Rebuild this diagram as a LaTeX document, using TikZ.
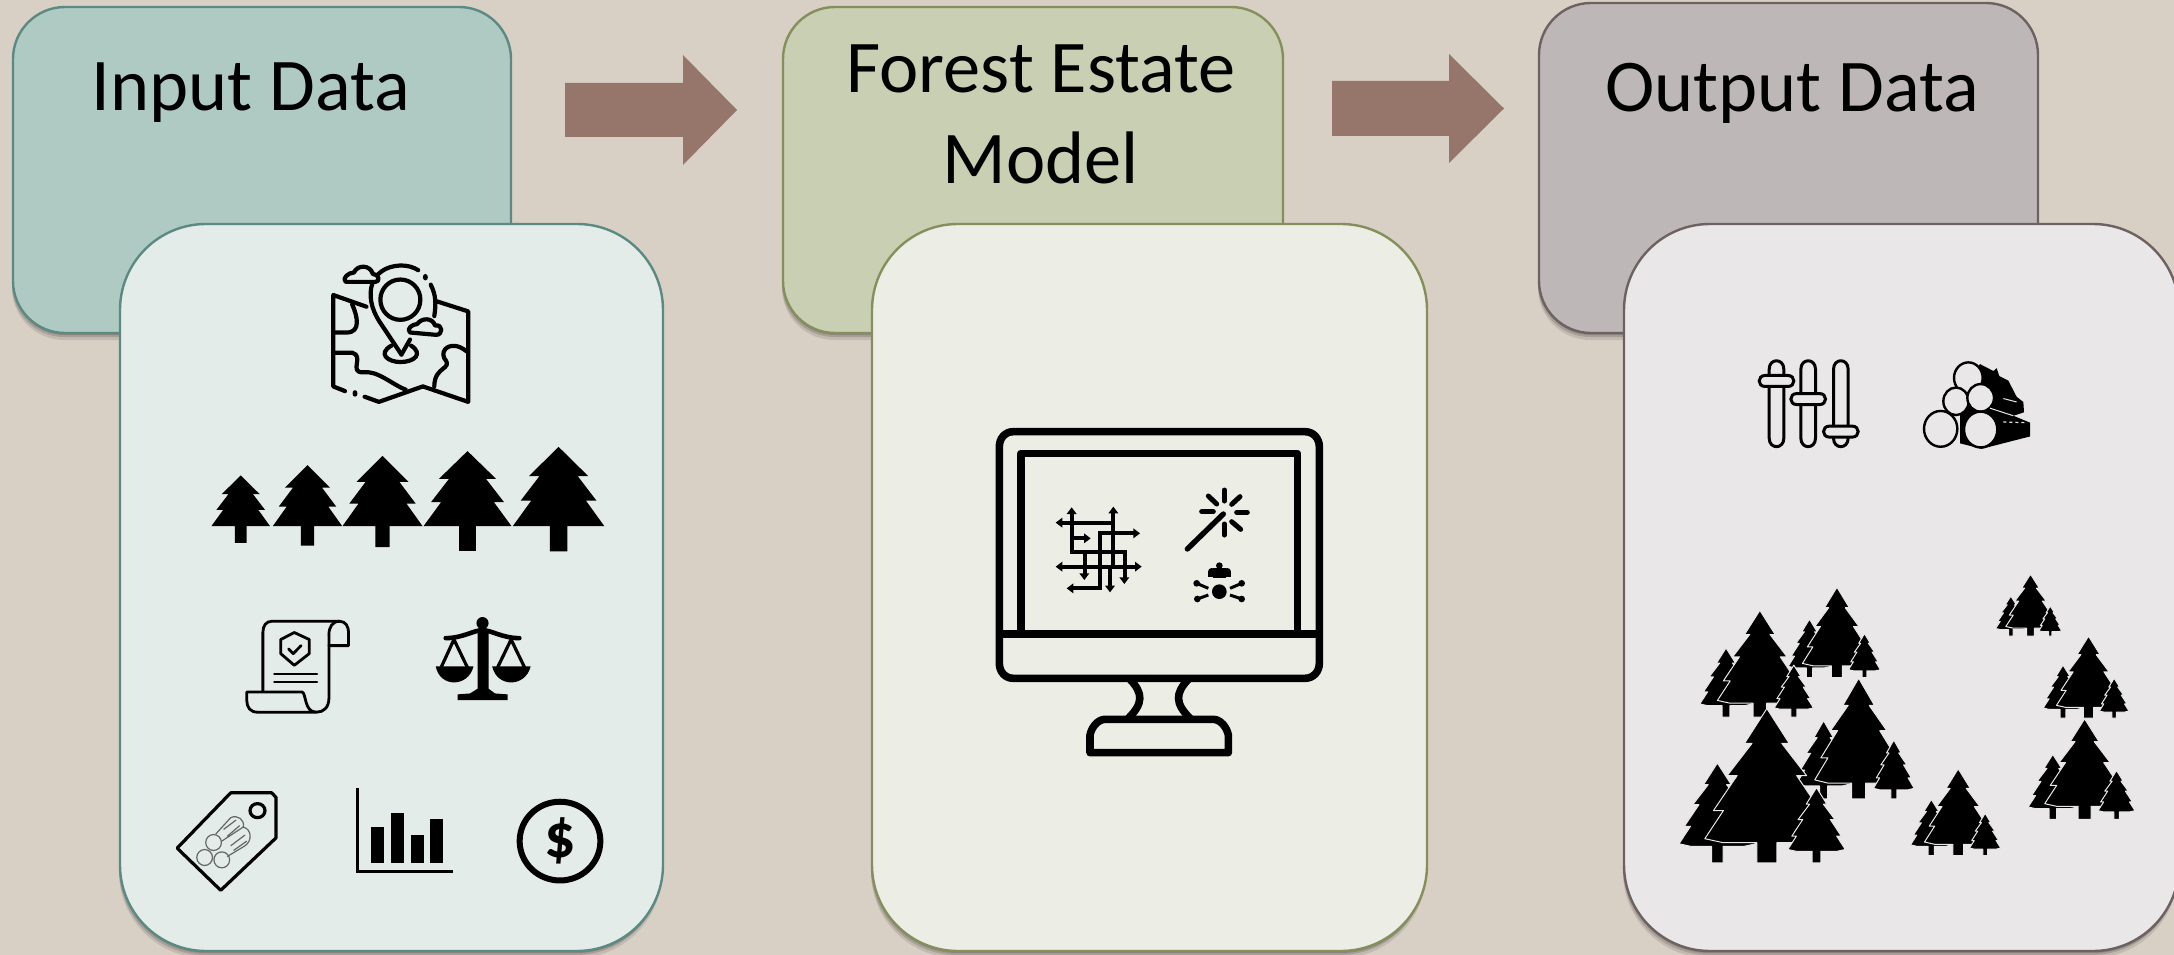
\documentclass[tikz,border=0pt]{standalone}
\usepackage{fontspec}
\setmainfont{Carlito}
\usetikzlibrary{shadows}
\definecolor{bgc}{HTML}{D9D0C5}
\definecolor{inB}{HTML}{AFCAC3}\definecolor{inE}{HTML}{5B8A82}\definecolor{inF}{HTML}{E3ECE9}
\definecolor{foB}{HTML}{C8CFB2}\definecolor{foE}{HTML}{858F5C}\definecolor{foF}{HTML}{ECEEE6}
\definecolor{ouB}{HTML}{BEB7B7}\definecolor{ouE}{HTML}{6E6161}\definecolor{ouF}{HTML}{E9E7E8}
\definecolor{arr}{HTML}{96766A}
\tikzset{
 softshadow/.style={drop shadow={shadow xshift=0pt,shadow yshift=-2pt,fill=black,opacity=.16},
   drop shadow={shadow xshift=-1pt,shadow yshift=-4pt,fill=black,opacity=.14},
   drop shadow={shadow xshift=-1pt,shadow yshift=-7pt,fill=black,opacity=.10}},
 backpanel/.style={draw,line width=2.4pt,rounded corners=52pt,softshadow,inner sep=0pt,minimum width=#1},
 frontpanel/.style={draw,line width=2.4pt,rounded corners=86pt,softshadow,inner sep=0pt,minimum height=727pt,minimum width=#1},
 titletext/.style={anchor=base,font=\fontsize{74.4}{88}\selectfont,text=black,inner sep=0pt},
 blockarrow/.style={fill=arr},
 zA/.style={shift={(120,220)},x=0.35714pt,y=-0.46875pt},
 zB/.style={shift={(960,400)},x=0.33333pt,y=-0.33333pt},
 zC/.style={shift={(1660,340)},x=0.33333pt,y=-0.34439pt},
 ic/.style={line width=#1,line cap=round,line join=round,draw=black},
 ic/.default=4.2pt
}
\newcommand{\pinetree}[6]{\begin{scope}[shift={(#1,#2)},xscale=#3,yscale=#4]
 \fill[black] (0,0)--(.65,.37)--(.42,.37)--(.83,.68)--(.6,.68)--(1,1)--(#5,1)--(#5,#6)--(-#5,#6)--(-#5,1)--(-1,1)--(-.6,.68)--(-.83,.68)--(-.42,.37)--(-.65,.37)--cycle;
 \end{scope}}
\newcommand{\sprucetree}[6]{\begin{scope}[shift={(#1,#2)},xscale=#3,yscale=#4]
 \filldraw[fill=black,draw=ouF,line width=1pt,line join=round] (0,0)--(.36,.26)--(.24,.26)--(.64,.5)--(.48,.5)--(.86,.76)--(.7,.76)--(1,.97)--(.7,1)--(#5,1)--(#5,#6)--(-#5,#6)--(-#5,1)--(-.7,1)--(-1,.97)--(-.7,.76)--(-.86,.76)--(-.48,.5)--(-.64,.5)--(-.24,.26)--(-.36,.26)--cycle;
 \end{scope}}
\newcommand{\treecluster}[4]{\begin{scope}[shift={(#1,#2)},xscale=#3,yscale=#4]
 \sprucetree{.233}{.353}{.235}{.54}{.15}{1.2}
 \sprucetree{.536}{0}{.38}{.87}{.16}{1.15}
 \sprucetree{.84}{.513}{.176}{.413}{.15}{1.18}
 \end{scope}}
\begin{document}
\begin{tikzpicture}[x=1pt,y=-1pt]
\useasboundingbox (0,0) rectangle (2174,955);
\clip (0,0) rectangle (2174,955);
\fill[bgc] (0,0) rectangle (2174,955);
% panels
\node[backpanel=498pt,minimum height=326pt,draw=inE,fill=inB] (inputBack) at (262,170) {};
\node[backpanel=500pt,minimum height=326pt,draw=foE,fill=foB] (forestBack) at (1033,170) {};
\node[backpanel=499pt,minimum height=330pt,draw=ouE,fill=ouB] (outputBack) at (1788.5,168) {};
\node[frontpanel=543pt,draw=inE,fill=inF] (inputFront) at (391.5,587.5) {};
\node[frontpanel=555pt,draw=foE,fill=foF] (forestFront) at (1149.5,587.5) {};
\node[frontpanel=555pt,draw=ouE,fill=ouF] (outputFront) at (1901.5,587.5) {};
% titles
\node[titletext] (inputTitle) at (251,111) {Input Data};
\node[titletext] (forestTitleA) at (1041,93) {Forest Estate};
\node[titletext] (forestTitleB) at (1041,183) {Model};
\node[titletext] (outputTitle) at (1792,112) {Output Data};
% block arrows
\fill[blockarrow] (565,83)--(683,83)--(683,55)--(737,110)--(683,165)--(683,137)--(565,137)--cycle;
\fill[blockarrow] (1332,81)--(1449,81)--(1449,54)--(1504,108.5)--(1449,163)--(1449,136)--(1332,136)--cycle;
% ---------- input icons
\begin{scope}[zA]
 % map
 \draw[ic] (690,185)--(597,160)--(597,355)--(630,365);
 \fill (658,370) ellipse [x radius=7,y radius=7];
 \draw[ic] (685,377)--(725,388)--(848,355)--(975,388)--(975,195)--(885,173);
 \draw[ic] (600,240)--(635,240) .. controls (675,240) and (665,205) .. (650,180);
 \draw[ic] (600,283)--(650,283) .. controls (685,290) and (640,325) .. (680,325) .. controls (720,320) and (760,350) .. (800,362);
 \draw[ic] (970,280) .. controls (930,255) and (895,275) .. (908,295) .. controls (935,320) and (880,310) .. (880,355);
 \draw[ic] (788,287)--(725,215) .. controls (680,160) and (700,100) .. (785,97) .. controls (805,97) and (820,100) .. (835,107);
 \fill (855,122) ellipse [x radius=7,y radius=7];
 \draw[ic] (870,138) .. controls (885,160) and (885,180) .. (880,205);
 \draw[ic] (788,287)--(812,255);
 \draw[ic] (785,170) ellipse [x radius=56,y radius=43];
 \draw[ic] (760,268) .. controls (720,285) and (750,303) .. (785,303) .. controls (825,303) and (850,285) .. (815,268);
 \filldraw[ic,fill=inF] (632,132) .. controls (620,125) and (640,112) .. (655,112) .. controls (665,95) and (700,95) .. (708,115) .. controls (725,115) and (730,132) .. (715,132) -- cycle;
 \filldraw[ic,fill=inF] (812,240) .. controls (800,232) and (820,222) .. (832,222) .. controls (845,208) and (875,208) .. (882,225) .. controls (905,222) and (905,245) .. (885,245) -- cycle;
 % pines
 \pinetree{338}{545}{82}{108}{.2}{1.33}
 \pinetree{525}{523}{97}{130}{.19}{1.32}
 \pinetree{735}{503}{112}{150}{.18}{1.3}
 \pinetree{973}{493}{123}{160}{.19}{1.33}
 \pinetree{1228}{484}{128}{169}{.19}{1.32}
 % scroll
 \draw[ic=2.8pt] (400,1005)--(400,880) .. controls (400,865) and (410,856) .. (425,856)--(615,856) .. controls (632,856) and (640,868) .. (640,880)--(640,908)--(585,908);
 \draw[ic=2.8pt] (585,885) .. controls (585,868) and (595,856) .. (615,856);
 \draw[ic=2.8pt] (585,885)--(585,1020) .. controls (585,1040) and (570,1050) .. (550,1050)--(385,1050) .. controls (365,1050) and (355,1040) .. (355,1025)--(355,1007)--(510,1007) .. controls (522,1010) and (515,1050) .. (550,1050);
 \draw[ic=2.8pt] (488,880)--(530,895)--(530,925)--(488,950)--(450,925)--(450,895)--cycle;
 \draw[ic=2.8pt] (472,915)--(485,925)--(507,908);
 \draw[ic=2.2pt] (432,968)--(552,968);
 \draw[ic=2.2pt] (432,985)--(552,985);
 % scales
 \fill (1015,860) ellipse [x radius=17,y radius=13];
 \fill (1001,872)--(1032,872)--(1032,1000)--(1050,1010)--(1085,1012)--(1085,1024)--(945,1024)--(945,1012)--(980,1010)--(1001,1000)--cycle;
 \draw[ic=4.6pt] (912,892) .. controls (960,892) and (990,875) .. (1015,875) .. controls (1040,875) and (1070,892) .. (1118,892);
 \draw[ic=3.2pt] (935,895)--(897,958)--(975,958)--cycle;
 \draw[ic=3.2pt] (1095,895)--(1055,958)--(1135,958)--cycle;
 \fill (884,952) .. controls (895,998) and (975,998) .. (990,952)--cycle;
 \fill (1042,952) .. controls (1055,998) and (1135,998) .. (1150,952)--cycle;
 % tag
 \draw[ic=3.2pt] (160,1340)--(310,1222)--(425,1222)--(437,1232)--(437,1318)--(282,1430)--cycle;
 \draw[ic=3.2pt] (385,1260) ellipse [x radius=21,y radius=15];
 \begin{scope}[draw=black!60,line width=1.2pt]
  \draw (262,1328) ellipse [x radius=22,y radius=17];
  \draw (237,1360) ellipse [x radius=22,y radius=17];
  \draw (285,1365) ellipse [x radius=22,y radius=17];
  \draw (268,1310)--(310,1275) .. controls (330,1268) and (350,1280) .. (345,1295);
  \draw (285,1325)--(345,1295) .. controls (370,1300) and (370,1325) .. (350,1335)--(300,1358);
  \draw (290,1300)--(325,1280); \draw (300,1315)--(335,1292);
  \draw (310,1335)--(350,1312); \draw (318,1345)--(355,1325);
 \end{scope}
 % bar chart
 \draw[line width=3.2pt,draw=black] (665,1212)--(665,1390)--(931,1390);
 \fill (703,1295) rectangle (740,1372);
 \fill (758,1265) rectangle (795,1372);
 \fill (814,1312) rectangle (850,1372);
 \fill (869,1278) rectangle (905,1372);
 % dollar
 \draw[line width=6pt] (1232,1325) ellipse [x radius=113,y radius=84];
 \node[font=\fontsize{62}{70}\selectfont\bfseries,text=black,inner sep=0pt] (dollarSign) at (1232,1325) {\$};
\end{scope}
% ---------- monitor
\begin{scope}[zB]
 \draw[line width=7.6pt,line join=round] (160,95)--(1035,95) .. controls (1060,95) and (1078,115) .. (1078,140)--(1078,790) .. controls (1078,815) and (1060,835) .. (1035,835)--(160,835) .. controls (135,835) and (118,815) .. (118,790)--(118,140) .. controls (118,115) and (135,95) .. (160,95)--cycle;
 \draw[line width=7.6pt,line join=round] (183,700)--(183,160)--(1012,160)--(1012,700);
 \draw[line width=8pt] (118,702)--(1078,702);
 \draw[line width=7.6pt] (510,838) .. controls (550,880) and (550,910) .. (505,955);
 \draw[line width=7.6pt] (685,838) .. controls (645,880) and (645,910) .. (690,955);
 \draw[line width=7.6pt,line join=round] (390,1058)--(390,1005) .. controls (395,980) and (415,958) .. (435,958)--(760,958) .. controls (780,958) and (800,980) .. (805,1005)--(805,1058)--cycle;
 % maze
 \begin{scope}[line width=4.2pt,line cap=butt,line join=miter]
  \draw (300,368)--(460,368)--(460,335);
  \draw (460,368)--(460,500);
  \draw (335,335)--(335,455)--(495,455)--(495,535);
  \draw (335,415)--(380,415);
  \draw (420,500)--(420,400)--(525,400);
  \draw (420,500)--(420,565)--(335,565);
  \draw (300,500)--(530,500);
  \draw (375,455)--(375,525);
  \draw (450,500)--(450,560);
 \end{scope}
 \foreach \a/\b/\u/\v in {287/368/1/0,540/400/-1/0,545/500/-1/0,287/500/1/0,320/565/1/0,392/415/-1/0,335/322/0/1,460/320/0/1,373/540/0/-1,450/577/0/-1,493/552/0/-1}{
   \fill ({\a},{\b})--({\a+\u*20+\v*15},{\b+\v*20+\u*15})--({\a+\u*20-\v*15},{\b+\v*20-\u*15})--cycle;}
 % wand
 \begin{scope}[line cap=round]
  \draw[line width=5.4pt] (682,447)--(790,342);
  \draw[line width=5pt] (793,270)--(793,303);
  \draw[line width=5pt] (840,290)--(815,313);
  \draw[line width=5pt] (830,337)--(862,337);
  \draw[line width=5pt] (815,365)--(842,388);
  \draw[line width=5pt] (793,372)--(793,405);
  \draw[line width=5pt] (745,288)--(770,312);
  \draw[line width=5pt] (725,335)--(760,335);
 \end{scope}
 % cog-like mark
 \fill (778,575) circle [radius=22];
 \fill (745,515) rectangle (812,532);
 \fill (760,505) rectangle (798,535);
 \fill (778,497) circle [radius=10];
 \fill (755,515) circle [radius=11];
 \fill (802,515) circle [radius=11];
 \foreach \a/\b/\c/\d in {710/550/745/565,845/550/810/565,712/597/745/585,845/597/810/585}{
  \fill (\a,\b) circle [radius=10];
  \draw[line width=3pt] (\a,\b)--(\c,\d);}
\end{scope}
% ---------- output icons
\begin{scope}[zC]
 % sliders
 \foreach \a/\b in {349.5/119,444.5/171.5,542.5/266}{
  \draw[line width=3pt,line join=round] (\a-22,85) .. controls (\a-22,52) and (\a+22,52) .. (\a+22,85)--(\a+22,285) .. controls (\a+22,318) and (\a-22,318) .. (\a-22,285)--cycle;
  \filldraw[line width=3pt,fill=ouF] (\a-34,\b-16) -- (\a+34,\b-16) .. controls (\a+58,\b-16) and (\a+58,\b+16) .. (\a+34,\b+16) -- (\a-34,\b+16) .. controls (\a-58,\b+16) and (\a-58,\b-16) .. (\a-34,\b-16)--cycle;}
 % logs
 \fill (960,70)--(1000,90)--(1010,82)--(1018,105)--(1045,118)--(1070,165)--(1090,180)--(1092,210)--(1060,220)--(1110,240)--(1110,280)--(965,316)--(900,300)--(900,150)--cycle;
 \foreach \a/\b/\r/\s in {925/110/43/45,888/178/38/40,962/168/40/40,842/258/50/52,962/260/50/52}{
  \filldraw[line width=2.4pt,fill=ouF] (\a,\b) ellipse [x radius=\r,y radius=\s];}
 \draw[ouF,line width=1pt] (1030,170)--(1070,180);
 \draw[ouF,line width=1.2pt,dashed] (1030,238)--(1095,240);
 \draw[ouF,line width=1pt] (990,198)--(1060,220);
 % tree clusters
 \treecluster{385}{718}{272}{262}
 \treecluster{120}{785}{335}{310}
 \treecluster{410}{982}{347}{350}
 \treecluster{58}{1070}{490}{448}
 \treecluster{752}{1245}{266}{252}
 \treecluster{1105}{1100}{315}{292}
 \treecluster{1150}{860}{253}{238}
 \treecluster{1007}{680}{195}{180}
\end{scope}
\end{tikzpicture}
\end{document}
